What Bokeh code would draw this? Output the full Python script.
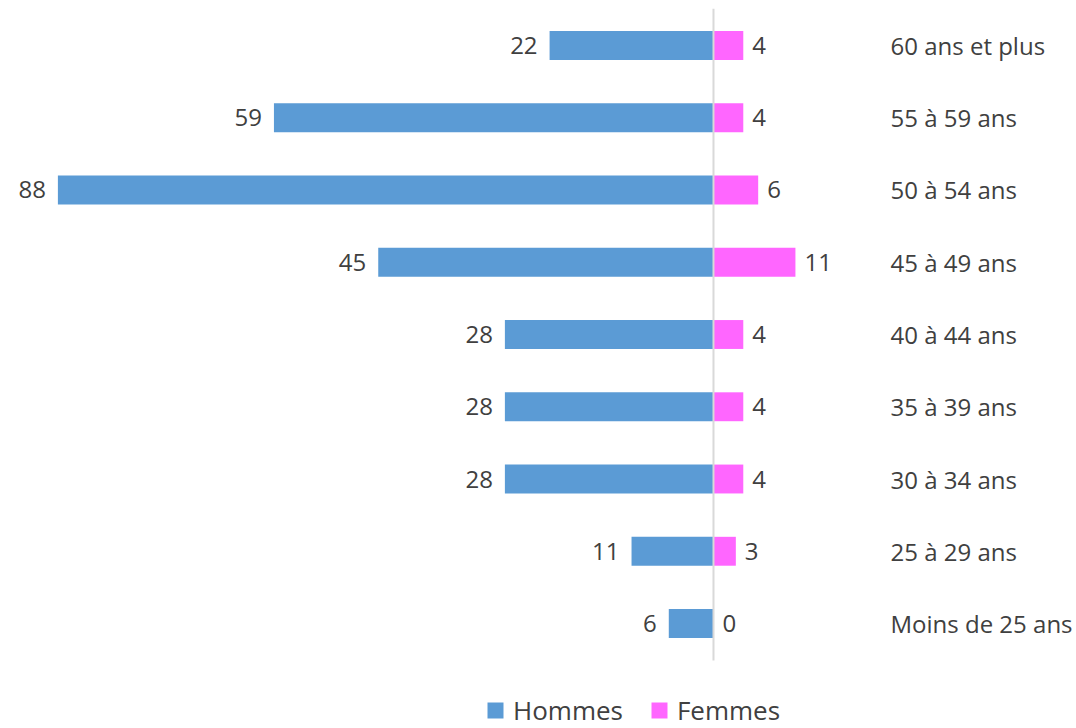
from bokeh.plotting import figure
from bokeh.models import (ColumnDataSource, LinearAxis, FixedTicker,
                          Legend, LegendItem, Range1d)
from bokeh.core.properties import value
from bokeh.embed import file_html
from bokeh.resources import INLINE

# Data (bottom to top)
categories = ["Moins de 25 ans", "25 à 29 ans", "30 à 34 ans", "35 à 39 ans",
              "40 à 44 ans", "45 à 49 ans", "50 à 54 ans", "55 à 59 ans",
              "60 ans et plus"]
hommes = [6, 11, 28, 28, 28, 45, 88, 59, 22]
femmes = [0, 3, 4, 4, 4, 11, 6, 4, 4]

BLUE = "#5B9BD5"
PINK = "#FF66FF"
TXT = "#404040"
FONT = "Open Sans"

ypos = list(range(len(categories)))
src = ColumnDataSource(dict(
    y=ypos,
    h_left=[-v for v in hommes],
    zero=[0] * len(hommes),
    f_right=femmes,
    h_txt=[str(v) for v in hommes],
    f_txt=[str(v) for v in femmes],
))

# category band limits, half a band beyond the outer categories
band_lo = ypos[0] - 0.512
band_hi = ypos[-1] + 0.512

p = figure(frame_width=870, frame_height=720, min_border_left=8, min_border_right=0,
           min_border_top=8, min_border_bottom=0,
           x_range=Range1d(-94.63, 22.15), y_range=Range1d(-1.453, band_hi),
           x_axis_location=None, y_axis_location=None,
           output_backend="svg", toolbar_location=None)
p.outline_line_color = None
p.xgrid.visible = False
p.ygrid.visible = False

r_h = p.hbar(y="y", left="h_left", right="zero", height=0.4, source=src,
             fill_color=BLUE, line_color=None)
r_f = p.hbar(y="y", left="zero", right="f_right", height=0.4, source=src,
             fill_color=PINK, line_color=None)

# vertical axis line at zero, spanning the category band only
p.segment(x0=[0], y0=[band_lo], x1=[0], y1=[band_hi],
          line_color="#d9d9d9", line_width=2)

p.text(x="h_left", y="y", text="h_txt", source=src, x_offset=-12,
       text_align="right", text_baseline="middle", text_color=TXT,
       text_font=value(FONT), text_font_size="24px")
p.text(x="f_right", y="y", text="f_txt", source=src, x_offset=9,
       text_align="left", text_baseline="middle", text_color=TXT,
       text_font=value(FONT), text_font_size="24px")

ax = LinearAxis(ticker=FixedTicker(ticks=ypos),
                major_label_overrides={i: c for i, c in enumerate(categories)})
ax.axis_line_color = None
ax.major_tick_line_color = None
ax.minor_tick_line_color = None
ax.major_tick_out = 0
ax.major_tick_in = 0
ax.major_label_standoff = 12
ax.major_label_text_font = FONT
ax.major_label_text_font_size = "24px"
ax.major_label_text_color = TXT
p.add_layout(ax, "right")

legend = Legend(items=[LegendItem(label="Hommes", renderers=[r_h]),
                       LegendItem(label="Femmes", renderers=[r_f])],
                orientation="horizontal", location=(477, 0))
legend.label_text_font = FONT
legend.label_text_font_size = "26px"
legend.label_text_color = TXT
legend.glyph_width = 20
legend.glyph_height = 20
legend.label_standoff = 8
legend.spacing = 26
legend.padding = 0
legend.margin = 0
legend.border_line_alpha = 0
legend.background_fill_alpha = 0
p.add_layout(legend, "center")

open("out.html", "w").write(file_html(p, INLINE))
